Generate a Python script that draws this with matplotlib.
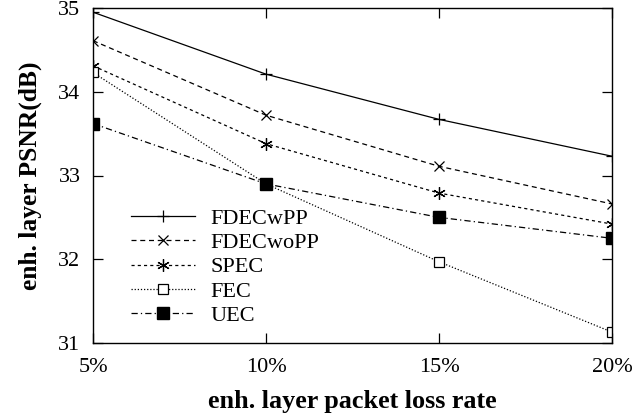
import matplotlib
matplotlib.use("Agg")
import matplotlib.pyplot as plt

x_labels = ["5%", "10%", "15%", "20%"]
x_vals = [5, 10, 15, 20]
fdecwpp = [34.95, 34.21, 33.67, 33.23]
fdecwopp = [34.61, 33.72, 33.11, 32.66]
spec = [34.31, 33.38, 32.79, 32.42]
fec = [34.23, 32.90, 31.97, 31.13]
uec = [33.62, 32.90, 32.50, 32.25]

plt.rcParams['font.family'] = ['Liberation Serif', 'DejaVu Serif']

fig = plt.figure(figsize=(6.44, 4.2), dpi=100)
ax = fig.add_axes([93/644, 1-343/420, (612-93)/644, (343-8)/420])

lw = 0.9
ax.plot(x_vals, fdecwpp, color='black', lw=lw, ls='-', marker='+', ms=9, mew=0.9, label='FDECwPP')
ax.plot(x_vals, fdecwopp, color='black', lw=lw, ls=(0, (4, 3)), marker='x', ms=7, mew=0.9, label='FDECwoPP')
ax.plot(x_vals, spec, color='black', lw=lw, ls=(0, (2.5, 2.5)), marker=(6, 2, 0), ms=9, mew=0.9, label='SPEC')
ax.plot(x_vals, fec, color='black', lw=lw, ls=(0, (1, 1.5)), marker='s', ms=7, mfc='white', mew=0.9, label='FEC')
ax.plot(x_vals, uec, color='black', lw=lw, ls=(0, (5, 2.5, 1, 2.5)), marker='s', ms=8, mfc='black', label='UEC')

ax.set_xlim(5, 20)
ax.set_ylim(31, 35)
ax.set_xticks(x_vals)
ax.set_xticklabels(x_labels)
ax.set_yticks([31, 32, 33, 34, 35])
ax.tick_params(direction='in', top=True, right=True, length=7, width=0.9, labelsize=16)
ax.tick_params(axis='x', pad=11)
ax.tick_params(axis='y', pad=9)
for s in ax.spines.values():
    s.set_linewidth(1.0)

ax.set_xlabel('enh. layer packet loss rate', fontsize=18.8, fontweight='bold', labelpad=9)
ax.set_ylabel('enh. layer PSNR(dB)', fontsize=18.4, fontweight='bold', labelpad=12)

leg = ax.legend(loc='lower left', bbox_to_anchor=(0.043, 0.004), frameon=False, fontsize=16,
                handlelength=2.9, handletextpad=0.7, labelspacing=0.17, borderpad=0.2)

fig.savefig('out.png', dpi=100)
